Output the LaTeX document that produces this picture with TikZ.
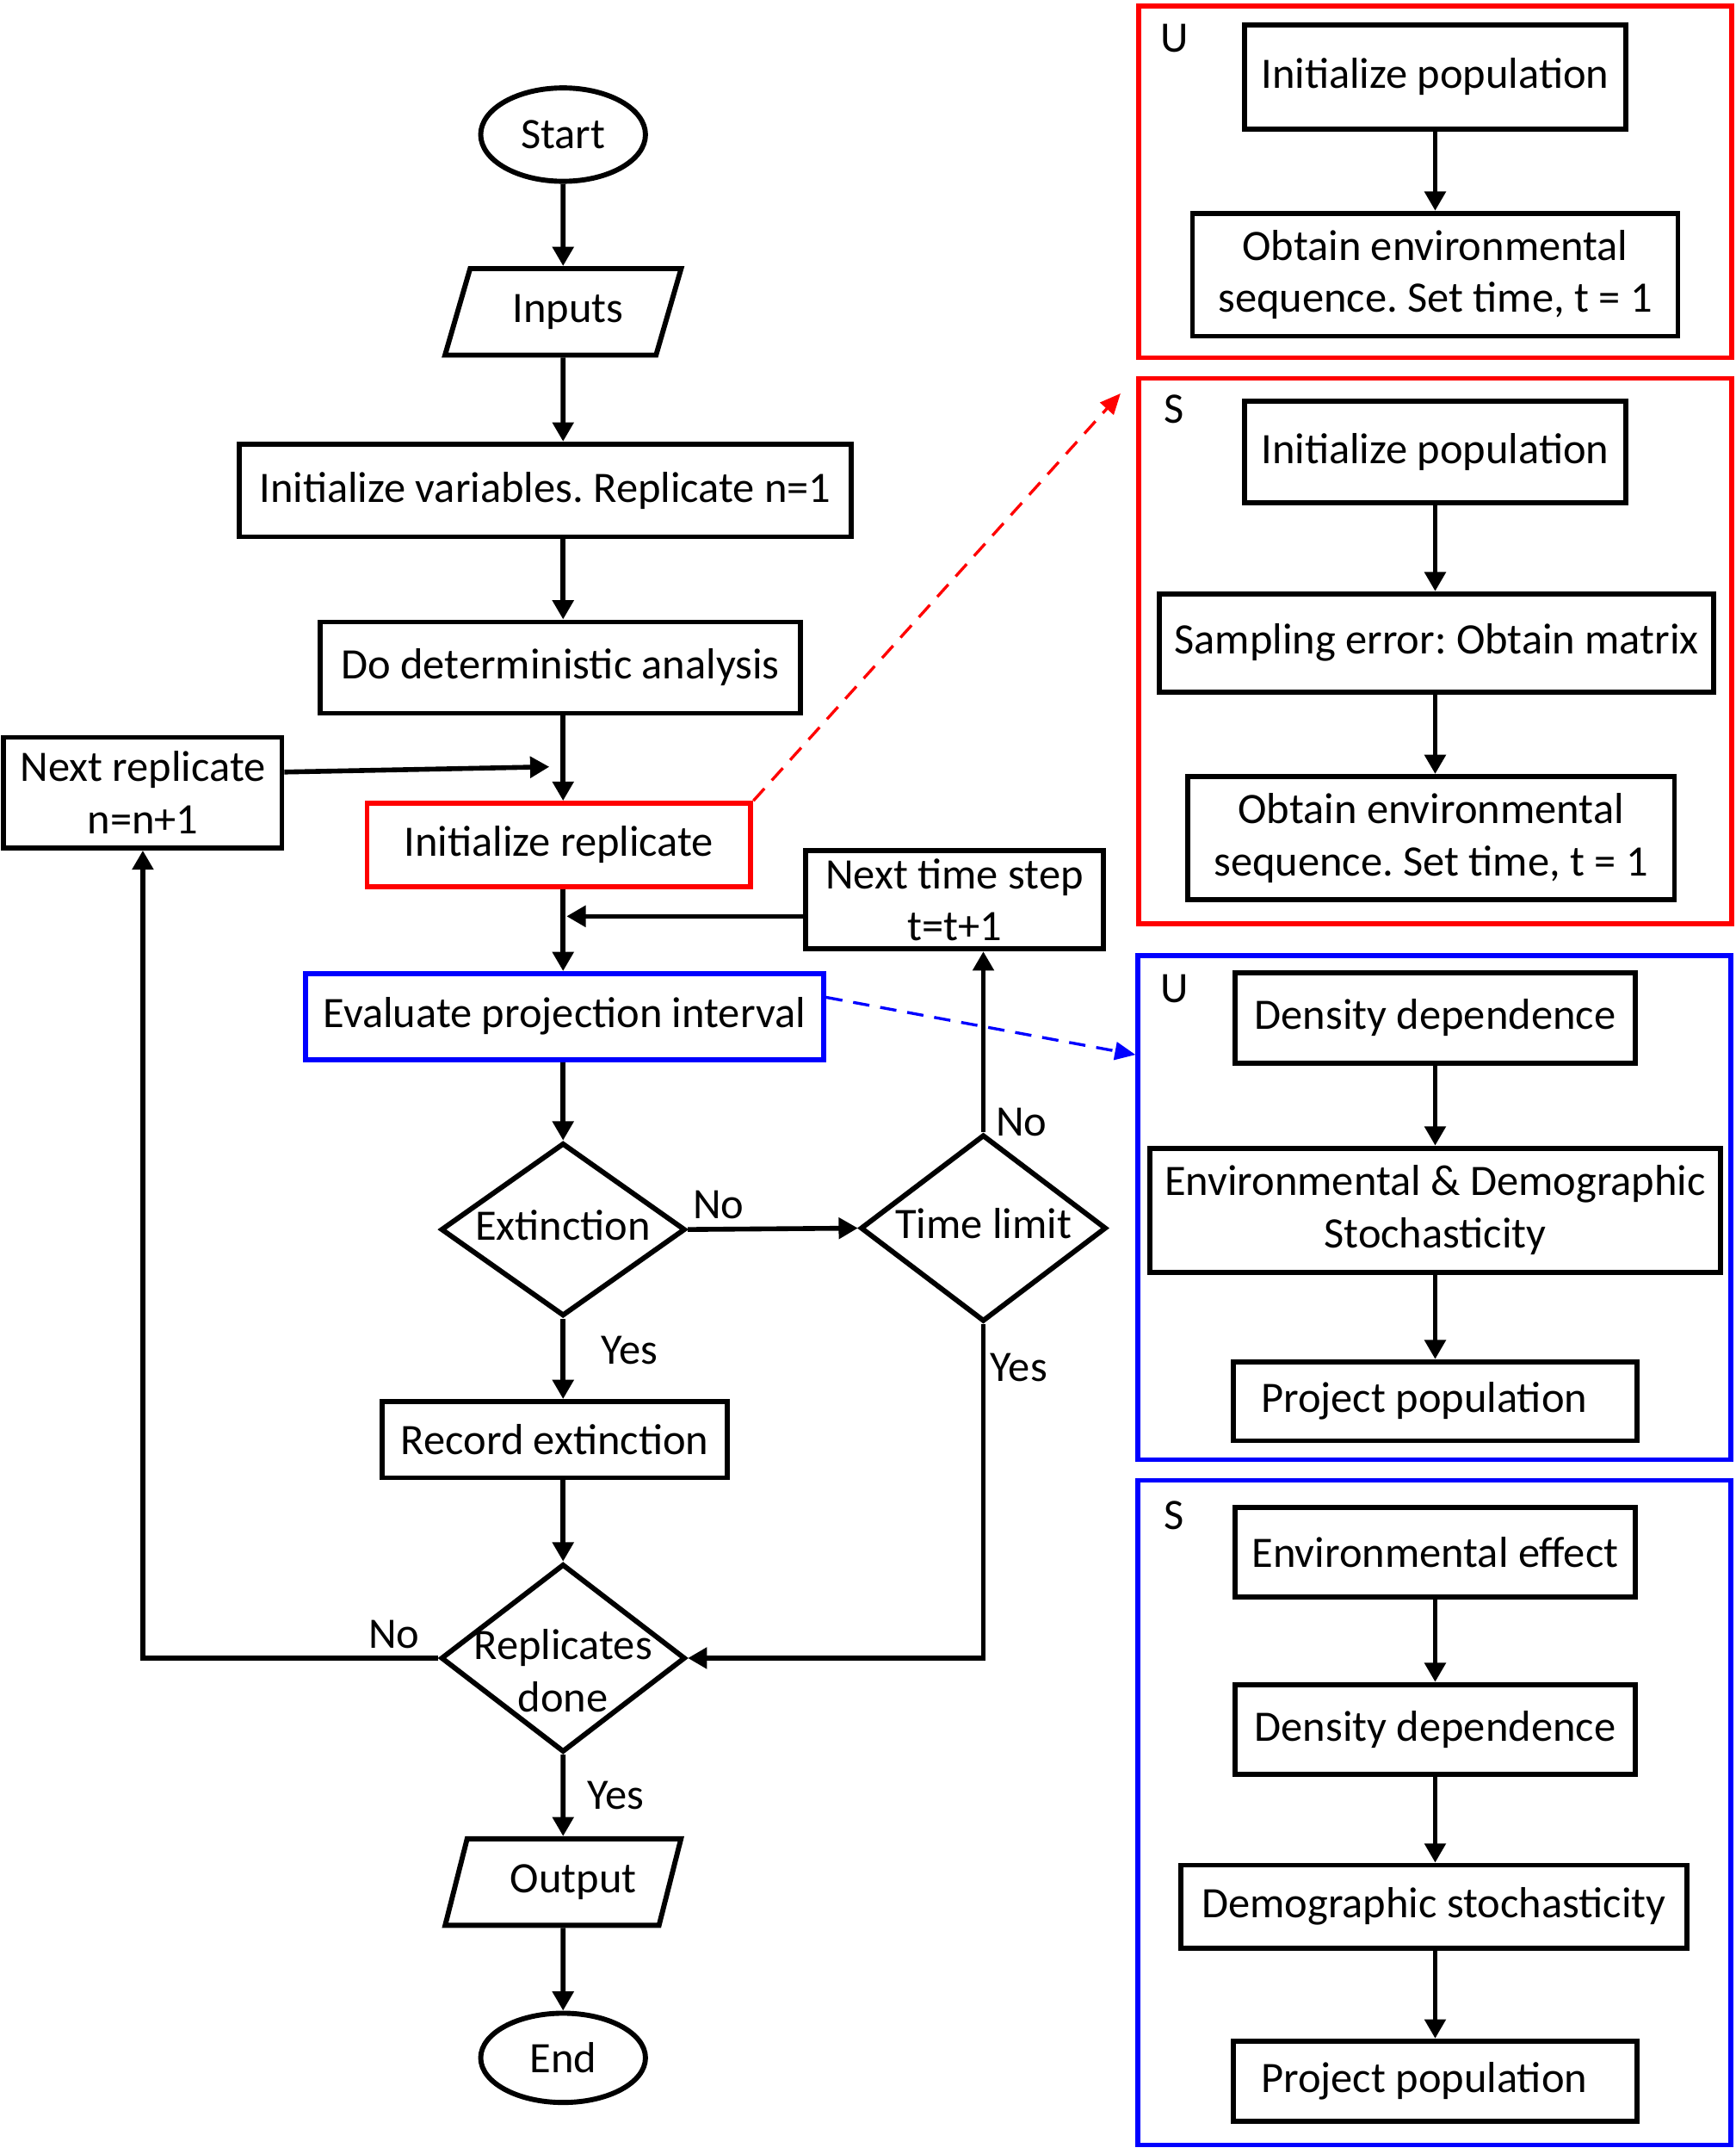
\documentclass[tikz,border=0pt]{standalone}
\usepackage{fontspec}
\setmainfont{Carlito}
\usetikzlibrary{shapes.geometric, arrows.meta, positioning, calc}

\newcommand{\dtext}[1]{\makebox[0pt]{\begin{tabular}{@{}c@{}}#1\end{tabular}}}
\frenchspacing

\tikzset{
    box/.style={draw, rectangle, line width=2.1pt, align=center, inner sep=2pt},
    term/.style={draw, ellipse, line width=2.1pt, minimum width=2.4cm, minimum height=1.36cm, inner sep=0pt},
    io/.style={draw, trapezium, trapezium left angle=70, trapezium right angle=110,
        trapezium stretches=true, minimum width=3.45cm, minimum height=1.26cm, line width=2.1pt},
    dec/.style={draw, diamond, line width=2.1pt, inner sep=0pt},
    panel/.style={draw, rectangle, line width=2pt, minimum width=8.64cm},
    flow/.style={-{Triangle[length=0.28cm, width=0.3cm]}, line width=2pt},
    dflow/.style={-{Triangle[length=0.3cm, width=0.26cm]}, line width=1.2pt, dash pattern=on 0.24cm off 0.16cm},
    lbl/.style={inner sep=2pt},
}

\begin{document}
\begin{tikzpicture}[x=0.02cm, y=-0.02cm, font=\fontsize{18}{21.6}\selectfont]
    \useasboundingbox (0,0) rectangle (1264,1568);
    \coordinate (axis) at (410,0);

    % main loop
    \node[term] (start) at (410,98) {Start};
    \node[io] (inputs) at (410,227) {\kern0.15cm Inputs};
    \node[box, minimum width=8.91cm, minimum height=1.35cm] (initvar) at (397,357) {Initialize variables. Replicate n=1};
    \node[box, minimum width=6.99cm, minimum height=1.33cm] (detan) at (408,486) {Do deterministic analysis};
    \node[box, minimum width=4.05cm, minimum height=1.61cm] (nextrep) at (104,577) {Next replicate\\n=n+1};
    \node[box, draw=red, minimum width=5.59cm, minimum height=1.21cm] (initrep) at (407,615) {Initialize replicate};
    \node[box, minimum width=4.33cm, minimum height=1.43cm] (nextstep) at (695,655) {Next time step\\t=t+1};
    \node[box, draw=blue, minimum width=7.55cm, minimum height=1.25cm] (evalproj) at (411,740) {Evaluate projection interval};
    \node[dec, minimum width=3.56cm, minimum height=2.52cm] (extinct) at (410,895) {\dtext{Extinction}};
    \node[dec, minimum width=3.58cm, minimum height=2.72cm] (timelim) at (716,894) {\dtext{Time limit}};
    \node[box, minimum width=5.03cm, minimum height=1.11cm] (recext) at (404,1048) {Record extinction};
    \node[dec, minimum width=3.56cm, minimum height=2.74cm] (repdone) at (410,1207) {\raisebox{-0.4cm}[0pt][0pt]{\dtext{Replicates\\done}}};
    \node[io] (output) at (410,1370) {\kern0.3cm Output};
    \node[term, minimum height=1.30cm] (stop) at (410,1498) {End};

    \coordinate (joinrep) at (410,558);
    \coordinate (joinstep) at (410,667);

    \draw[flow] (start) -- (inputs);
    \draw[flow] (inputs) -- (initvar.north -| inputs);
    \draw[flow] (initvar.south -| axis) -- (detan.north -| axis);
    \draw[flow] (detan.south -| axis) -- (initrep.north -| axis);
    \draw[flow, shorten >=0.2cm] ($(nextrep.east)+(0,-15)$) -- (joinrep);
    \draw[flow] (initrep.south -| axis) -- (evalproj.north -| axis);
    \draw[flow, shorten >=0.05cm] (nextstep.west |- joinstep) -- (joinstep);
    \draw[flow] (evalproj.south -| axis) -- (extinct.north);
    \draw[flow] (extinct.east) -- node[lbl, pos=0.18, above, yshift=0.04cm]{No} (timelim.west);
    \draw[flow] (timelim.north) -- node[lbl, at start, anchor=south west, xshift=0.08cm, yshift=-0.16cm]{No} (timelim.north |- nextstep.south);
    \draw[flow] (extinct.south) -- node[lbl, pos=0.4, right, xshift=0.45cm]{Yes} (recext.north -| extinct.south);
    \draw[flow] (recext.south -| axis) -- (repdone.north);
    \draw[flow] (timelim.south) |- node[lbl, pos=0.065, right]{Yes} (repdone.east);
    \draw[flow] (repdone.west) -| node[lbl, pos=0.075, above, yshift=0.04cm]{No} (nextrep.south);
    \draw[flow] (repdone.south) -- node[lbl, right, xshift=0.25cm]{Yes} (output.north);
    \draw[flow] (output.south) -- (stop.north);

    % detail panels
    \node[panel, draw=red, minimum height=5.12cm] (redU) at (1045,132.5) {};
    \node[panel, draw=red, minimum height=7.94cm] (redS) at (1045,474) {};
    \node[panel, draw=blue, minimum height=7.34cm] (bluU) at (1044.5,879) {};
    \node[panel, draw=blue, minimum height=9.68cm] (bluS) at (1044.5,1319.5) {};

    \node (tagRU) at (855,28) {U};
    \node (tagRS) at (855,298) {S};
    \node (tagBU) at (855,720) {U};
    \node (tagBS) at (855,1103) {S};

    \node[box, minimum width=5.55cm, minimum height=1.51cm] (ru1) at (1045,56) {Initialize population};
    \node[box, minimum width=7.07cm, minimum height=1.79cm] (ru2) at (1045,200) {Obtain environmental\\sequence. Set time, t = 1};
    \node[box, minimum width=5.55cm, minimum height=1.47cm] (rs1) at (1045,329) {Initialize population};
    \node[box, minimum width=8.07cm, minimum height=1.43cm] (rs2) at (1046,468) {Sampling error: Obtain matrix};
    \node[box, minimum width=7.09cm, minimum height=1.79cm] (rs3) at (1042,610) {Obtain environmental\\sequence. Set time, t = 1};
    \node[box, minimum width=5.83cm, minimum height=1.31cm] (bu1) at (1045,741) {Density dependence};
    \node[box, minimum width=8.31cm, minimum height=1.81cm] (bu2) at (1045,881) {Environmental \& Demographic\\Stochasticity};
    \node[box, minimum width=5.87cm, minimum height=1.15cm] (bu3) at (1045,1020) {Project population\kern0.32cm};
    \node[box, minimum width=5.83cm, minimum height=1.31cm] (bs1) at (1045,1130) {Environmental effect};
    \node[box, minimum width=5.83cm, minimum height=1.31cm] (bs2) at (1045,1259) {Density dependence};
    \node[box, minimum width=7.37cm, minimum height=1.21cm] (bs3) at (1044,1388) {Demographic stochasticity};
    \node[box, minimum width=5.87cm, minimum height=1.17cm] (bs4) at (1045,1515) {Project population\kern0.32cm};

    \path
        (ru1.south) edge[flow] (ru2.north -| ru1.south)
        (rs1.south) edge[flow] (rs2.north -| rs1.south)
        (rs2.south -| rs1.south) edge[flow] (rs3.north -| rs1.south)
        (bu1.south) edge[flow] (bu2.north -| bu1.south)
        (bu2.south -| bu1.south) edge[flow] (bu3.north -| bu1.south)
        (bs1.south) edge[flow] (bs2.north -| bs1.south)
        (bs2.south) edge[flow] (bs3.north -| bs2.south)
        (bs3.south -| bs2.south) edge[flow] (bs4.north -| bs2.south)
        ;

    % links to the panels
    \draw[dflow, red, shorten >=0.34cm] (initrep.north east) -- (redS.north west);
    \draw[dflow, blue] ($(evalproj.east)+(0,-14)$) -- ($(bluU.north west)+(0,74)$);
\end{tikzpicture}
\end{document}
